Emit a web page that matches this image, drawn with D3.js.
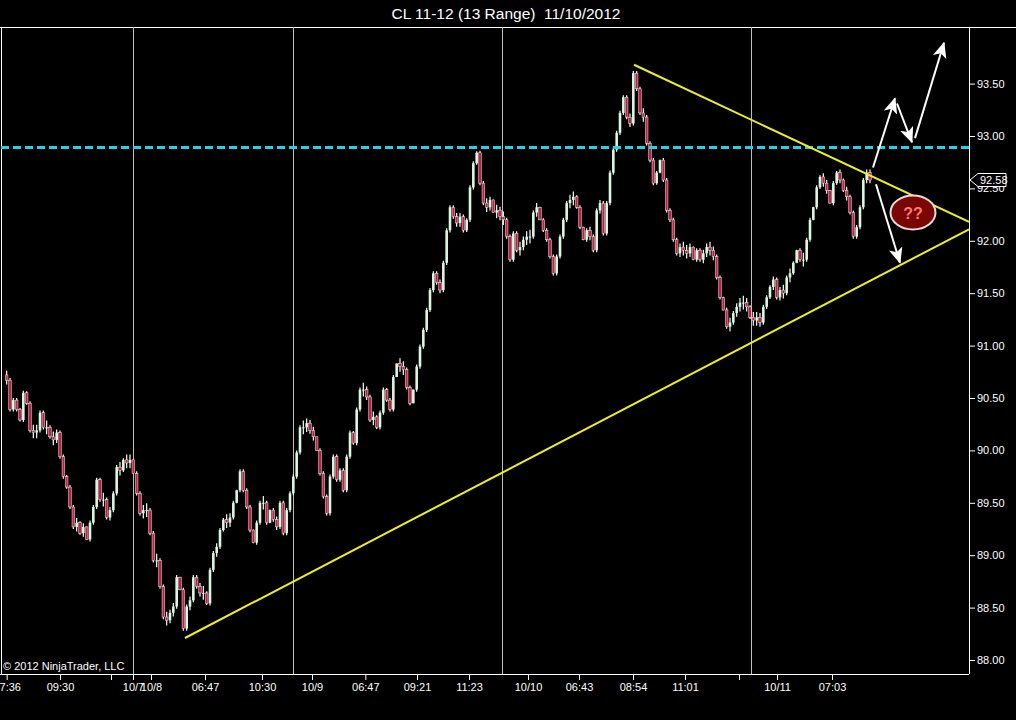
<!DOCTYPE html>
<html><head><meta charset="utf-8">
<script src="https://cdn.jsdelivr.net/npm/d3@7"></script>
<style>html,body{margin:0;padding:0;background:#000;}svg{display:block;}</style>
</head><body>
<script>
// ---------- DATA ----------
const title = "CL 11-12 (13 Range)  11/10/2012";
const copyright = "\u00A9 2012 NinjaTrader, LLC";
// closing prices of the range bars
const closes = [
90.67,90.39,90.48,90.39,90.29,90.55,90.45,90.19,90.17,90.19,
90.36,90.22,90.22,90.13,90.10,90.17,89.94,89.75,89.65,89.46,
89.27,89.31,89.21,89.27,89.15,89.31,89.46,89.72,89.53,89.53,
89.36,89.43,89.59,89.84,89.81,89.91,89.88,89.91,89.78,89.59,
89.40,89.43,89.43,89.21,88.95,88.95,88.70,88.41,88.38,88.45,
88.51,88.79,88.67,88.30,88.51,88.57,88.79,88.70,88.64,88.64,
88.54,88.86,89.02,89.08,89.24,89.34,89.31,
89.36,89.50,89.62,89.80,89.62,89.46,89.24,89.12,89.31,89.50,
89.50,89.31,89.43,89.34,89.27,89.50,89.21,89.43,89.59,89.75,
89.98,90.22,90.22,90.26,90.19,90.13,90.00,89.78,89.56,89.40,
89.75,89.94,89.72,89.81,89.62,89.94,90.17,90.07,90.39,90.58,
90.58,90.51,90.29,90.32,90.22,90.36,90.58,90.48,90.39,90.70,
90.83,90.80,90.77,90.60,90.45,90.58,90.80,90.99,91.15,91.34,
91.53,91.69,91.60,91.53,91.79,92.10,92.32,
92.23,92.17,92.23,92.10,92.20,92.51,92.74,92.84,92.55,92.36,
92.32,92.39,92.27,92.29,92.23,92.20,92.04,91.82,92.07,91.91,
91.94,92.01,92.04,92.04,92.27,92.32,92.20,92.10,92.01,91.85,
91.69,91.85,92.04,92.20,92.36,92.39,92.42,92.32,92.13,92.01,
92.10,92.04,91.91,92.29,92.36,92.07,92.36,92.65,92.87,93.03,
93.22,93.37,93.18,93.12,93.60,93.45,93.22,93.18,92.93,92.77,
92.55,92.65,92.77,
92.58,92.29,92.20,92.01,91.88,91.94,91.91,91.88,91.94,91.82,
91.91,91.82,91.88,91.94,91.91,91.85,91.65,91.46,91.34,91.18,
91.22,91.31,91.37,91.41,91.41,91.37,91.27,91.24,91.27,91.22,
91.37,91.46,91.56,91.63,91.46,91.53,91.50,91.65,91.69,91.79,
91.91,91.82,91.82,92.01,92.20,92.32,92.51,92.61,92.55,92.48,
92.36,92.55,92.65,92.58,92.48,92.42,92.27,92.04,92.13,92.32,
92.58,92.65,92.58
];
const barRange = 0.13;
const priceTicks = [88.00,88.50,89.00,89.50,90.00,90.50,91.00,91.50,92.00,92.50,93.00,93.50];
// time axis ticks: bar index and label ("" = unlabeled tick)
const timeTickIdx =   [0,      16,     31.3, 37.9,  43.3,  59.5,   76.6,   91.6,  107.6,  123.1,  138.7,  156.4,  171.7,  187.9,  203.5,  219.7, 231.1,  247.6];
const timeTickLabel = ["07:36","09:30","",   "10/7","10/8","06:47","10:30","10/9","06:47","09:21","11:23","10/10","06:43","08:54","11:01","",    "10/11","07:03"];
const sessionBreakIdx = [37.9, 85.9, 148.6, 223.3];
const resistancePrice = 92.89;
// trend lines [bar index, price]
const lowerTrend = [[53.5, 88.21],[288.7, 92.11]];
const upperTrend = [[188.2, 93.68],[288.7, 92.18]];
// scenario arrows [[fromIdx, fromPrice],[toIdx, toPrice]]
const arrows = [
  [[259.9, 92.70],[266.5, 93.36]],
  [[267.1, 93.31],[271.6, 92.94]],
  [[272.5, 92.98],[281.2, 93.89]],
  [[260.8, 92.54],[268.0, 91.79]]
];
const questionMark = {idx: 271.9, price: 92.27, text: "??"};

// ---------- LAYOUT ----------
const W = 1016, H = 720;
const plot = {left: 1, right: 969, top: 27, bottom: 674};
const font = "'Liberation Sans', Arial, sans-serif";

const svg = d3.select("body").append("svg").attr("width", W).attr("height", H)
  .style("background", "#000");

const x = d3.scaleLinear().domain([0, closes.length - 1]).range([6.67, 870]);
const y = d3.scaleLinear().domain([88, 93.5]).range([660, 83.6]);

svg.append("defs").append("clipPath").attr("id","clip")
  .append("rect").attr("x", plot.left).attr("y", plot.top)
  .attr("width", plot.right - plot.left).attr("height", plot.bottom - plot.top);

// title
svg.append("text").attr("x", 506).attr("y", 19).attr("text-anchor","middle")
  .style("white-space","pre").attr("xml:space","preserve")
  .attr("fill","#fff").attr("font-family", font).attr("font-size", 15.5).text(title);

// frame
svg.append("line").attr("x1",0).attr("x2",W).attr("y1",plot.top+0.5).attr("y2",plot.top+0.5)
  .attr("stroke","#fff").attr("stroke-width",1);
svg.append("line").attr("x1",plot.left+0.5).attr("x2",plot.left+0.5).attr("y1",plot.top).attr("y2",plot.bottom)
  .attr("stroke","#fff").attr("stroke-width",1);

// session breaks
svg.append("g").selectAll("line").data(sessionBreakIdx).join("line")
  .attr("x1", d => Math.round(x(d)) + 0.5).attr("x2", d => Math.round(x(d)) + 0.5)
  .attr("y1", plot.top).attr("y2", plot.bottom)
  .attr("stroke","#bdbdbd").attr("stroke-width",1);

const gPlot = svg.append("g").attr("clip-path","url(#clip)");

// candles
const bars = closes.map((c, i) => {
  const o = i > 0 ? closes[i-1] : c + 0.05;
  const hiB = Math.max(o, c), loB = Math.min(o, c);
  const ext = Math.abs(c - o) < barRange ? (barRange - Math.abs(c - o)) / 2 : 0.02;
  return {i, o, c, hi: hiB + ext, lo: loB - ext, up: c >= o};
});
const gBars = gPlot.append("g");
gBars.selectAll("line").data(bars).join("line")
  .attr("x1", d => x(d.i)).attr("x2", d => x(d.i))
  .attr("y1", d => y(d.hi)).attr("y2", d => y(d.lo))
  .attr("stroke","#f4fff8").attr("stroke-width",1.2);
gBars.selectAll("rect").data(bars).join("rect")
  .attr("x", d => x(d.i) - 1.3).attr("width", 2.6)
  .attr("y", d => y(Math.max(d.o, d.c)))
  .attr("height", d => Math.max(1, y(Math.min(d.o, d.c)) - y(Math.max(d.o, d.c))))
  .attr("fill", d => d.up ? "#dcf6e4" : "#c81c44")
  .attr("stroke", d => d.up ? "none" : "#f0f0f0").attr("stroke-width", 0.5);

// resistance
gPlot.append("line").attr("x1", plot.left).attr("x2", plot.right)
  .attr("y1", y(resistancePrice)).attr("y2", y(resistancePrice))
  .attr("stroke","#1fd3e6").attr("stroke-width",3).attr("stroke-dasharray","8,4");

// trend lines
const lineGen = d3.line().x(d => x(d[0])).y(d => y(d[1]));
[lowerTrend, upperTrend].forEach(t => {
  gPlot.append("path").attr("d", lineGen(t)).attr("fill","none")
    .attr("stroke","#f0f020").attr("stroke-width",2);
});

// arrows
svg.select("defs").append("marker").attr("id","ah")
  .attr("markerUnits","userSpaceOnUse").attr("markerWidth",16).attr("markerHeight",14)
  .attr("refX",15).attr("refY",7).attr("orient","auto")
  .append("path").attr("d","M0,0 L16,7 L0,14 L4,7 Z").attr("fill","#fff");
gPlot.append("g").selectAll("line").data(arrows).join("line")
  .attr("x1", d => x(d[0][0])).attr("y1", d => y(d[0][1]))
  .attr("x2", d => x(d[1][0])).attr("y2", d => y(d[1][1]))
  .attr("stroke","#fff").attr("stroke-width",2).attr("marker-end","url(#ah)");

// question ellipse
gPlot.append("ellipse").attr("cx", x(questionMark.idx)).attr("cy", y(questionMark.price))
  .attr("rx", 22.5).attr("ry", 17).attr("fill","#7a0606")
  .attr("stroke","#e8d8d8").attr("stroke-width",2);
gPlot.append("text").attr("x", x(questionMark.idx)).attr("y", y(questionMark.price) + 6)
  .attr("text-anchor","middle").attr("fill","#ff7a7a").attr("font-weight","bold")
  .attr("font-family", font).attr("font-size", 16).text(questionMark.text);

// right price axis
const yAxis = d3.axisRight(y).tickValues(priceTicks).tickFormat(d3.format(".2f")).tickSize(6).tickPadding(2);
const gY = svg.append("g").attr("transform", `translate(${plot.right},0)`).call(yAxis);
gY.select(".domain").remove();
gY.selectAll("line").attr("stroke","#fff");
gY.selectAll("text").attr("fill","#fff").attr("font-family", font).attr("font-size", 11);
svg.append("line").attr("x1", plot.right + 0.5).attr("x2", plot.right + 0.5)
  .attr("y1", plot.top).attr("y2", plot.bottom).attr("stroke","#fff");

// last price marker
const lastP = closes[closes.length - 1];
const ly = y(lastP);
svg.append("path")
  .attr("d", d3.line()([[plot.right + 1, ly],[plot.right + 9, ly - 6.5],[plot.right + 37, ly - 6.5],[plot.right + 37, ly + 6.5],[plot.right + 9, ly + 6.5]]) + "Z")
  .attr("fill","#000").attr("stroke","#fff").attr("stroke-width",1);
svg.append("text").attr("x", plot.right + 11).attr("y", ly + 4).attr("fill","#fff")
  .attr("font-family", font).attr("font-size", 11).text(d3.format(".2f")(lastP));

// bottom time axis
const xAxis = d3.axisBottom(x).tickValues(timeTickIdx)
  .tickFormat((d, i) => timeTickLabel[i]).tickSize(6).tickPadding(3);
const gX = svg.append("g").attr("transform", `translate(0,${plot.bottom})`).call(xAxis);
gX.select(".domain").remove();
gX.selectAll("line").attr("stroke","#fff");
gX.selectAll("text").attr("fill","#fff").attr("font-family", font).attr("font-size", 11);
svg.append("line").attr("x1", 0).attr("x2", plot.right).attr("y1", plot.bottom + 0.5).attr("y2", plot.bottom + 0.5)
  .attr("stroke","#fff");

// copyright
svg.append("text").attr("x", 3).attr("y", 670).attr("fill","#fff")
  .attr("font-family", font).attr("font-size", 11).text(copyright);
</script>
</body></html>
